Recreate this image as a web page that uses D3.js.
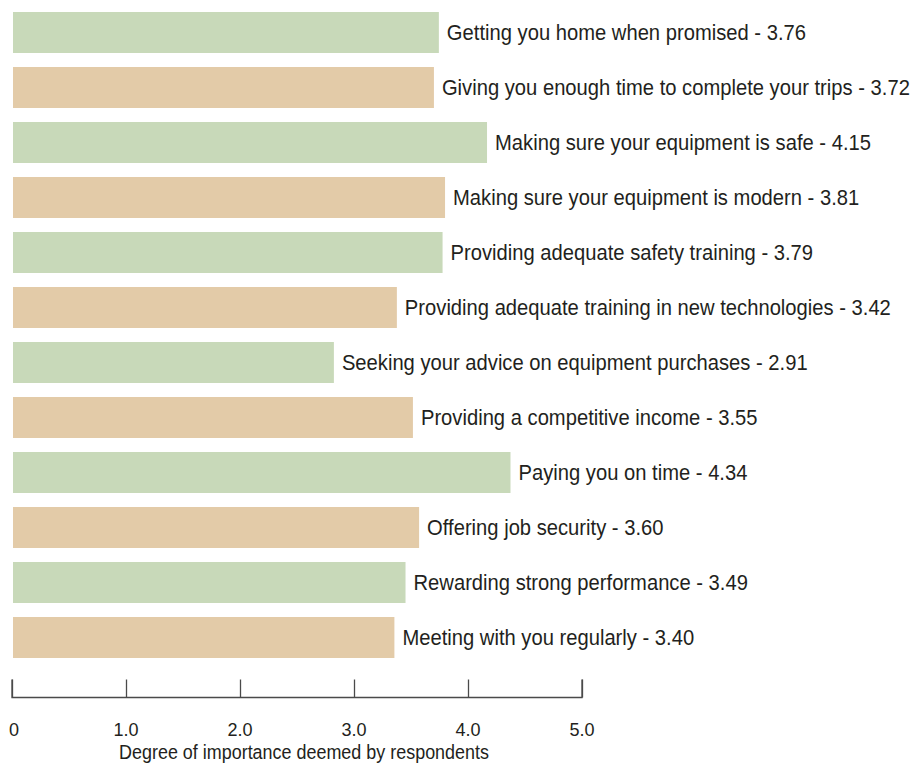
<!DOCTYPE html>
<html>
<head>
<meta charset="utf-8">
<script src="https://cdn.jsdelivr.net/npm/d3@7"></script>
<style>
  html, body { margin: 0; padding: 0; background: #fff; }
  svg { display: block; }
  text { font-family: "Liberation Sans", Arial, sans-serif; fill: #231f20; }
</style>
</head>
<body>
<svg id="chart" width="923" height="764"></svg>
<script>
const categories = [
  "Getting you home when promised",
  "Giving you enough time to complete your trips",
  "Making sure your equipment is safe",
  "Making sure your equipment is modern",
  "Providing adequate safety training",
  "Providing adequate training in new technologies",
  "Seeking your advice on equipment purchases",
  "Providing a competitive income",
  "Paying you on time",
  "Offering job security",
  "Rewarding strong performance",
  "Meeting with you regularly"
];
const values = [3.76, 3.72, 4.15, 3.81, 3.79, 3.42, 2.91, 3.55, 4.34, 3.60, 3.49, 3.40];
const tickValues = [0, 1, 2, 3, 4, 5];
const tickLabels = ["0", "1.0", "2.0", "3.0", "4.0", "5.0"];
const axisTitle = "Degree of importance deemed by respondents";
const colors = ["#c8d9b9", "#e3cba8"];

const svg = d3.select("#chart");

// axis scale (as drawn on the reference)
const x = d3.scaleLinear().domain([0, 5]).range([12, 582]);
// bar-length scale (the reference bars follow their own proportion)
const xBar = d3.scaleLinear().domain([0, 5]).range([-25.5, 592]);
const barStart = 13;

const y = d3.scaleBand().domain(d3.range(categories.length)).range([12, 658]).paddingInner(14 / 55).paddingOuter(0);

const rows = svg.append("g").selectAll("g").data(categories).join("g");

rows.append("rect")
  .attr("x", barStart)
  .attr("y", (d, i) => y(i))
  .attr("width", (d, i) => xBar(values[i]) - barStart)
  .attr("height", y.bandwidth())
  .attr("fill", (d, i) => colors[i % 2]);

// condensed-looking labels
const condense = 0.918;
rows.append("text")
  .attr("transform", (d, i) => `translate(${xBar(values[i]) + 8},${y(i) + y.bandwidth() / 2}) scale(${condense},1)`)
  .attr("dy", "0.36em")
  .attr("font-size", "22px")
  .text((d, i) => d + " - " + values[i].toFixed(2));

// axis
const axis = d3.axisTop(x)
  .tickValues(tickValues)
  .tickSize(18)
  .tickFormat(() => "");

const ag = svg.append("g").attr("transform", "translate(0,697.5)").call(axis);
ag.select(".domain").attr("d", `M${x(0)},-18V0H${x(5)}V-18`).attr("stroke", "#4a4a4a").attr("stroke-width", 1.3);
ag.selectAll(".tick line").attr("stroke", "#4a4a4a").attr("stroke-width", 1.3);

svg.append("g").selectAll("text").data(tickValues).join("text")
  .attr("transform", d => `translate(${x(d) + (d === 0 ? 2 : 0)},736) scale(0.95,1)`)
  .attr("text-anchor", "middle")
  .attr("font-size", "19px")
  .text((d, i) => tickLabels[i]);

svg.append("text")
  .attr("transform", "translate(304,759) scale(0.93,1)")
  .attr("text-anchor", "middle")
  .attr("font-size", "19.3px")
  .text(axisTitle);
</script>
</body>
</html>
